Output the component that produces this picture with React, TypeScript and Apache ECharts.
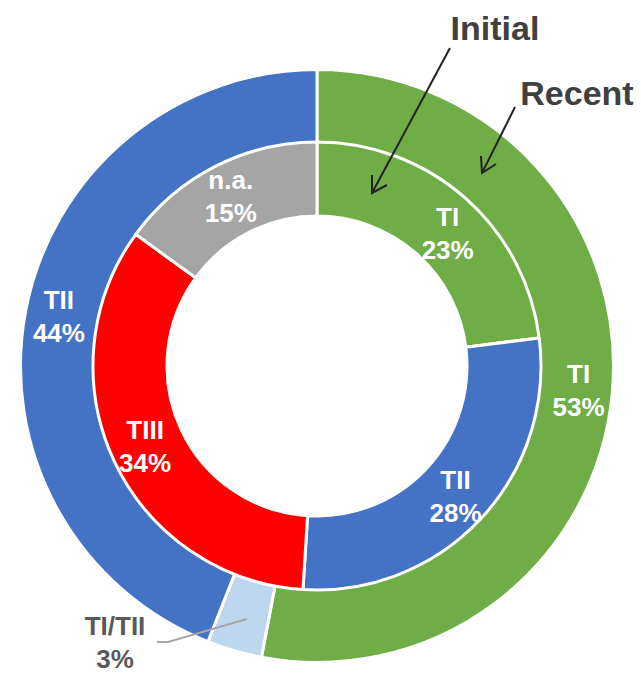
import React, { useEffect, useRef } from "react";
import * as echarts from "echarts";

const outerNames = ["TI", "TI/TII", "TII"];
const outerValues = [53, 3, 44];
const outerColors = ["#70AD47", "#BDD7EE", "#4472C4"];

const innerNames = ["TI", "TII", "TIII", "n.a."];
const innerValues = [23, 28, 34, 15];
const innerColors = ["#70AD47", "#4472C4", "#FF0000", "#A5A5A5"];

const ringTitles = ["Initial", "Recent"];

const FONT = "'Liberation Sans', Arial, sans-serif";

export default function App() {
  const ref = useRef<HTMLDivElement>(null);

  useEffect(() => {
    if (!ref.current) return;
    const chart = echarts.init(ref.current, undefined, { renderer: "svg" });

    const labelStyle = {
      show: true,
      position: "inside",
      formatter: "{b}\n{c}%",
      color: "#FFFFFF",
      fontFamily: FONT,
      fontWeight: "bold",
      fontSize: 26,
      lineHeight: 33,
    };

    const outerData = outerNames.map((n, i) => {
      const d: any = { name: n, value: outerValues[i], itemStyle: { color: outerColors[i] } };
      if (n === "TI/TII") {
        d.label = { position: "outside", color: "#595959" };
        d.labelLine = { show: false };
      }
      return d;
    });

    const innerData = innerNames.map((n, i) => ({
      name: n,
      value: innerValues[i],
      itemStyle: { color: innerColors[i] },
    }));

    const arrowStyle = { stroke: "#222222", lineWidth: 2, fill: "none" };

    chart.setOption({
      animation: false,
      backgroundColor: "#FFFFFF",
      series: [
        {
          type: "pie",
          name: "Recent",
          center: [317, 366],
          radius: [223, 296.5],
          startAngle: 90,
          clockwise: true,
          silent: true,
          itemStyle: { borderColor: "#FFFFFF", borderWidth: 3 },
          label: labelStyle,
          labelLine: { show: false },
          labelLayout: (p: any) =>
            p.dataIndex === 1
              ? { x: 115, y: 642, align: "center", verticalAlign: "middle" }
              : {},
          data: outerData,
        },
        {
          type: "pie",
          name: "Initial",
          center: [317, 366],
          radius: [150, 224],
          startAngle: 90,
          clockwise: true,
          silent: true,
          itemStyle: { borderColor: "#FFFFFF", borderWidth: 3 },
          label: labelStyle,
          labelLine: { show: false },
          labelLayout: (p: any) => (p.dataIndex === 0 ? { dx: 5, dy: 10 } : {}),
          data: innerData,
        },
      ],
      graphic: [
        {
          type: "polyline",
          z: 100,
          shape: { points: [[247, 619], [168, 642], [157, 642]] },
          style: { stroke: "#A6A6A6", lineWidth: 2, fill: "none" },
        },
        {
          type: "text",
          x: 495,
          y: 28,
          z: 100,
          style: {
            text: ringTitles[0],
            fill: "#404040",
            font: `bold 34px ${FONT}`,
            align: "center",
            verticalAlign: "middle",
          },
        },
        {
          type: "text",
          x: 577,
          y: 93,
          z: 100,
          style: {
            text: ringTitles[1],
            fill: "#404040",
            font: `bold 34px ${FONT}`,
            align: "center",
            verticalAlign: "middle",
          },
        },
        {
          type: "line",
          z: 100,
          shape: { x1: 450, y1: 48, x2: 372, y2: 193 },
          style: arrowStyle,
        },
        {
          type: "polyline",
          z: 100,
          shape: { points: [[387, 185], [372, 193], [372, 175]] },
          style: arrowStyle,
        },
        {
          type: "line",
          z: 100,
          shape: { x1: 515, y1: 107, x2: 482, y2: 173 },
          style: arrowStyle,
        },
        {
          type: "polyline",
          z: 100,
          shape: { points: [[496, 164], [482, 173], [481, 156]] },
          style: arrowStyle,
        },
      ],
    });

    return () => chart.dispose();
  }, []);

  return (
    <div
      ref={ref}
      style={{ position: "absolute", left: 0, top: 0, width: 641, height: 674 }}
    />
  );
}
